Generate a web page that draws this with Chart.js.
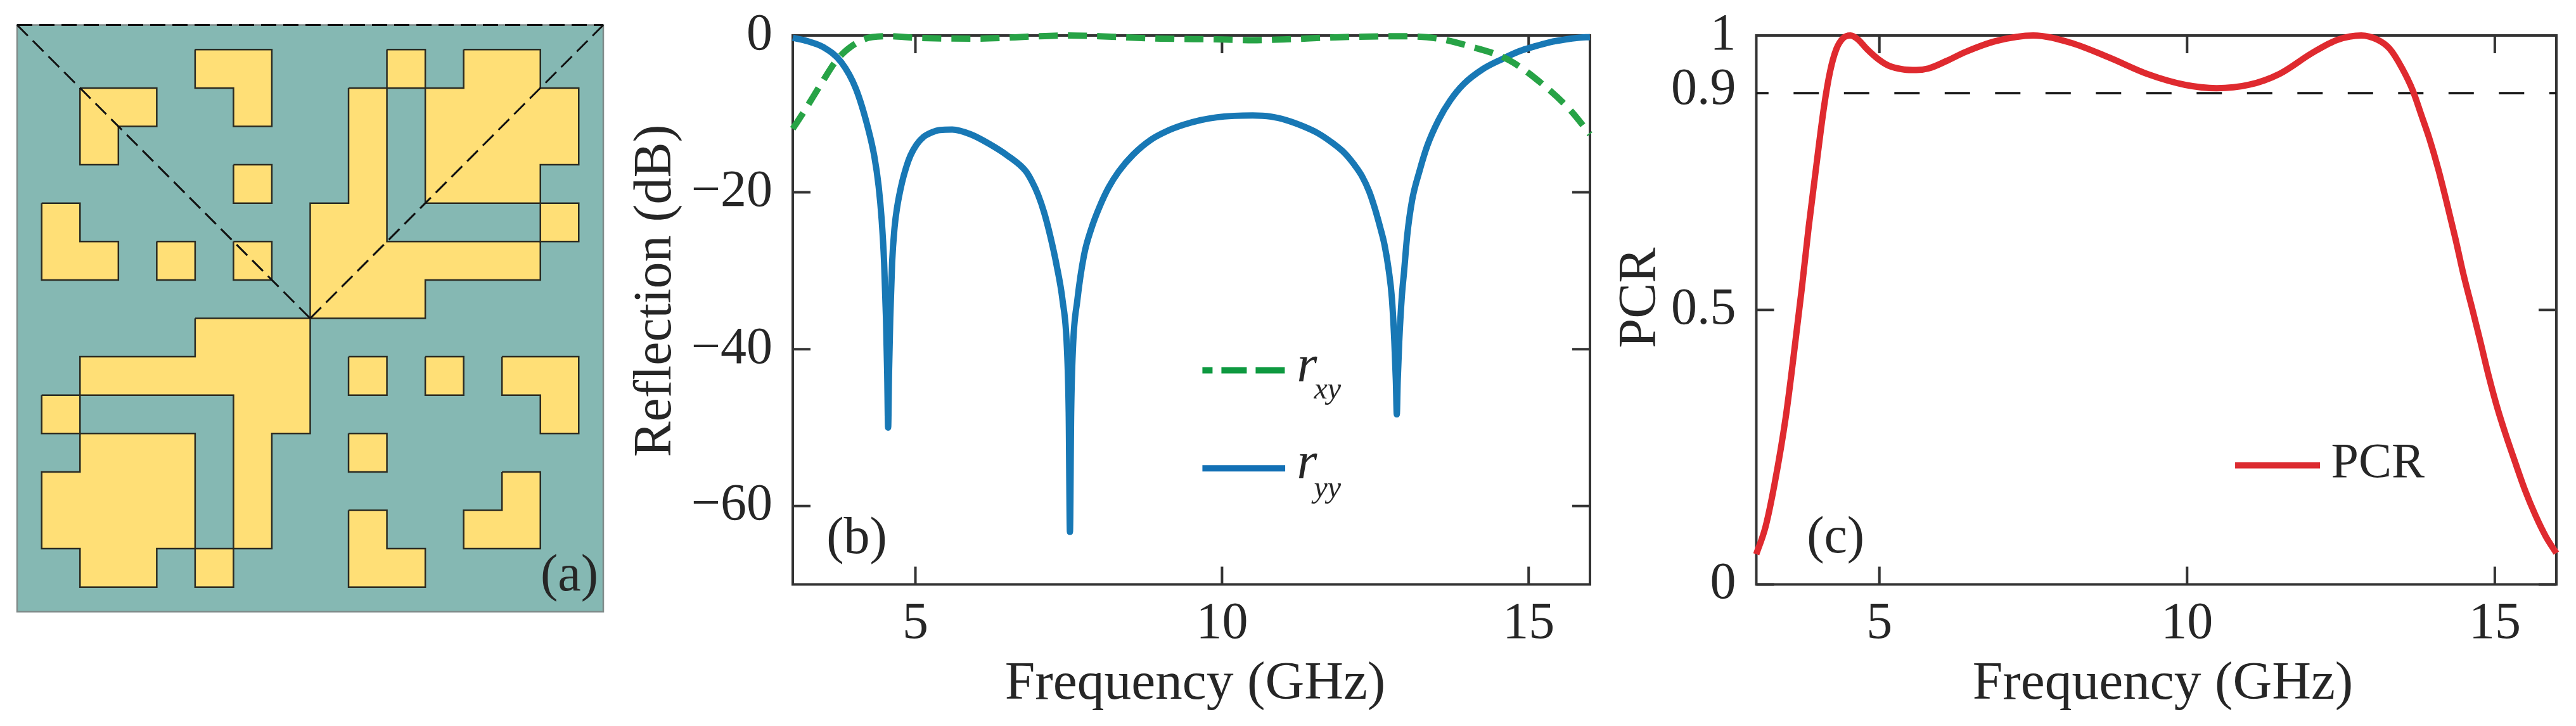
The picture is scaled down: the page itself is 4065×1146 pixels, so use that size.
<!DOCTYPE html>
<html>
<head>
<meta charset="utf-8">
<title>Metasurface unit cell, reflection and PCR</title>
<script src="https://cdn.jsdelivr.net/npm/chart.js@4"></script>
<style>
  html, body { margin: 0; padding: 0; background: #fff; }
  #page { position: relative; width: 4065px; height: 1146px; overflow: hidden; }
  canvas { position: absolute; top: 0; }
  #cell { left: 0; }
  #refl { left: 960px; }
  #pcr { left: 2530px; }
</style>
</head>
<body>
<div id="page">
  <canvas id="cell" width="985" height="1146"></canvas>
  <canvas id="refl" width="1570" height="1146"></canvas>
  <canvas id="pcr" width="1535" height="1146"></canvas>
</div>
<script>
// Panel (a): yellow blocks, corners in grid units
const cellBlocks = [
  [[1,1],[3,1],[3,2],[2,2],[2,3],[1,3]],
  [[4,0],[6,0],[6,2],[5,2],[5,1],[4,1]],
  [[5,3],[6,3],[6,4],[5,4]],
  [[0,4],[1,4],[1,5],[2,5],[2,6],[0,6]],
  [[3,5],[4,5],[4,6],[3,6]],
  [[5,5],[6,5],[6,6],[5,6]],
  [[9,0],[10,0],[10,1],[9,1]],
  [[11,0],[13,0],[13,1],[14,1],[14,3],[13,3],[13,4],[10,4],[10,1],[11,1]],
  [[13,4],[14,4],[14,5],[13,5]],
  [[8,1],[9,1],[9,5],[13,5],[13,6],[10,6],[10,7],[7,7],[7,4],[8,4]],
  [[4,7],[7,7],[7,10],[6,10],[6,13],[5,13],[5,9],[1,9],[1,8],[4,8]],
  [[0,9],[1,9],[1,10],[0,10]],
  [[1,10],[4,10],[4,13],[3,13],[3,14],[1,14],[1,13],[0,13],[0,11],[1,11]],
  [[4,13],[5,13],[5,14],[4,14]],
  [[8,8],[9,8],[9,9],[8,9]],
  [[10,8],[11,8],[11,9],[10,9]],
  [[12,8],[14,8],[14,10],[13,10],[13,9],[12,9]],
  [[8,10],[9,10],[9,11],[8,11]],
  [[12,11],[13,11],[13,13],[11,13],[11,12],[12,12]],
  [[8,12],[9,12],[9,13],[10,13],[10,14],[8,14]]
];
const cellRange = [-0.64, 14.64];
const cellCenter = [7, 7];

// Panel (b): reflection in dB
const ryyFreq = [3, 3.25, 3.5, 3.79, 4.03, 4.23, 4.33, 4.4, 4.45, 4.49, 4.52, 4.54, 4.555, 4.57, 4.59, 4.62, 4.66, 4.7, 4.78, 4.85, 4.92, 5.02, 5.13, 5.27, 5.4, 5.6, 5.9, 6.2, 6.5, 6.8, 6.9, 7, 7.1, 7.2, 7.3, 7.4, 7.47, 7.5, 7.52, 7.54, 7.57, 7.64, 7.75, 7.87, 8, 8.15, 8.32, 8.55, 8.84, 9.1, 9.37, 9.65, 9.9, 10.2, 10.5, 10.8, 11.05, 11.3, 11.55, 11.8, 12, 12.15, 12.28, 12.4, 12.49, 12.58, 12.65, 12.72, 12.77, 12.81, 12.835, 12.85, 12.865, 12.89, 12.93, 12.97, 13.02, 13.1, 13.22, 13.35, 13.53, 13.72, 13.94, 14.25, 14.57, 14.85, 15.09, 15.35, 15.6, 15.8, 16];
const ryyDb = [-0.3, -0.75, -1.5, -3.4, -6.8, -11.9, -15.4, -19.2, -23.5, -29, -36, -43, -50, -43, -36, -29, -24.5, -22, -18.8, -16.8, -15.3, -13.9, -12.95, -12.35, -12.05, -12, -12.6, -13.8, -15.3, -17.3, -18.6, -20.3, -22.6, -25.6, -29.2, -33.8, -39.7, -48, -63.3, -48, -39.7, -33.8, -28, -24.6, -21.9, -19.4, -17.3, -15.2, -13.3, -12.2, -11.4, -10.8, -10.45, -10.25, -10.2, -10.35, -10.8, -11.5, -12.4, -13.7, -15, -16.4, -17.9, -19.9, -22, -24.5, -26.7, -30, -33.5, -39, -44, -48.3, -44, -39, -33.5, -30, -25.5, -21, -17.3, -14, -10.8, -8.3, -6.2, -4.3, -3, -2, -1.4, -0.85, -0.5, -0.3, -0.2];
const rxyFreq = [3, 3.2, 3.46, 3.72, 4.03, 4.3, 4.6, 5, 6, 7, 7.5, 8, 9, 10, 10.5, 11, 12, 13, 13.53, 14.05, 14.67, 15.3, 15.7, 16];
const rxyDb = [-11.9, -9.5, -6.2, -3.1, -1, -0.2, -0.1, -0.3, -0.4, -0.1, 0, -0.1, -0.4, -0.5, -0.6, -0.5, -0.2, -0.1, -0.4, -1.4, -3.1, -6.7, -9.7, -12.6];

// Panel (c): polarization conversion ratio
const pcrFreq = [3, 3.15, 3.3, 3.48, 3.6, 3.74, 3.85, 3.95, 4.1, 4.2, 4.3, 4.41, 4.53, 4.65, 4.8, 4.98, 5.15, 5.4, 5.6, 5.8, 6.1, 6.4, 6.9, 7.5, 8.1, 8.73, 9.35, 9.97, 10.48, 11, 11.5, 12.03, 12.44, 12.83, 13.08, 13.29, 13.49, 13.67, 13.8, 13.94, 14.08, 14.22, 14.36, 14.49, 14.64, 14.76, 14.9, 15.04, 15.18, 15.32, 15.49, 15.66, 15.83, 16];
const pcrVal = [0.055, 0.105, 0.185, 0.306, 0.41, 0.54, 0.65, 0.74, 0.87, 0.935, 0.975, 0.995, 1, 0.993, 0.975, 0.957, 0.945, 0.938, 0.937, 0.94, 0.954, 0.97, 0.99, 1, 0.987, 0.96, 0.93, 0.91, 0.904, 0.91, 0.93, 0.968, 0.992, 1, 0.993, 0.976, 0.941, 0.899, 0.857, 0.811, 0.757, 0.695, 0.63, 0.565, 0.499, 0.445, 0.38, 0.322, 0.272, 0.226, 0.172, 0.126, 0.087, 0.057];
const pcrThreshold = 0.895;

// Ticks
const freqTicks = [5, 10, 15];
const reflTicks = [0, -20, -40, -60];
const pcrTicks = [0, 0.5, 0.9, 1];
const pcrMarkedTicks = [0, 0.5, 1];

const SERIF = "'Liberation Serif', 'Times New Roman', serif";
const INK = "#262626";
const BLUE = "#1878B5";
const GREEN = "#27A346";
const RED = "#DF2A2F";

Chart.defaults.animation = false;
Chart.defaults.font.family = SERIF;
Chart.defaults.color = INK;

const toPoints = (xs, ys) => xs.map((x, i) => ({ x, y: ys[i] }));

function setText(ctx, size, style) {
  ctx.font = `${style || ""} ${size}px ${SERIF}`;
  ctx.fillStyle = INK;
  ctx.textBaseline = "alphabetic";
  ctx.textAlign = "left";
}

// Inward ticks on all four sides plus the box, MATLAB style
const boxFrame = {
  id: "boxFrame",
  beforeDatasetsDraw(chart, args, opts) {
    const { ctx, chartArea: a, scales } = chart;
    ctx.save();
    ctx.strokeStyle = "#333";
    ctx.lineWidth = 4;
    ctx.beginPath();
    freqTicks.forEach(v => {
      const x = scales.x.getPixelForValue(v);
      ctx.moveTo(x, a.top); ctx.lineTo(x, a.top + 28);
      ctx.moveTo(x, a.bottom); ctx.lineTo(x, a.bottom - 28);
    });
    opts.marks.forEach(v => {
      const y = scales.y.getPixelForValue(v);
      ctx.moveTo(a.left, y); ctx.lineTo(a.left + 28, y);
      ctx.moveTo(a.right, y); ctx.lineTo(a.right - 28, y);
    });
    ctx.stroke();
    ctx.strokeRect(a.left, a.top, a.right - a.left, a.bottom - a.top);
    ctx.restore();
  },
  // the titles sit off-centre in the original, so they are placed by hand
  afterDraw(chart, args, opts) {
    const { ctx } = chart;
    ctx.save();
    setText(ctx, 85.5);
    ctx.textAlign = "center";
    ctx.fillText("Frequency (GHz)", opts.xTitleX, 1103);
    ctx.translate(opts.yTitleX, opts.yTitleY);
    ctx.rotate(-Math.PI / 2);
    ctx.font = `84px ${SERIF}`;
    ctx.fillText(opts.yTitle, 0, 0);
    ctx.restore();
  }
};

function curveChart(id, leftWidth, rightPad, yMin, yMax, yTicks, titles, datasets, marks, extra) {
  return new Chart(document.getElementById(id), {
    type: "scatter",
    data: { datasets },
    options: {
      responsive: false,
      events: [],
      layout: { autoPadding: false, padding: { top: 56, right: rightPad, left: 0, bottom: 0 } },
      plugins: { legend: { display: false }, tooltip: { enabled: false }, boxFrame: { marks, ...titles } },
      scales: {
        x: {
          min: 3, max: 16,
          grid: { display: false }, border: { display: false },
          afterBuildTicks: s => { s.ticks = freqTicks.map(value => ({ value })); },
          afterFit: s => { s.height = 223.5; s.paddingLeft = 0; s.paddingRight = 0; },
          ticks: { font: { size: 82 }, padding: 6, autoSkip: false, maxRotation: 0 }
        },
        y: {
          min: yMin, max: yMax,
          grid: { display: false }, border: { display: false },
          afterBuildTicks: s => { s.ticks = yTicks.map(value => ({ value })); },
          afterFit: s => { s.width = leftWidth; s.paddingTop = 0; s.paddingBottom = 0; },
          ticks: {
            font: { size: 82 }, padding: 24, autoSkip: false,
            callback: v => String(v).replace("-", "\u2212")
          }
        }
      }
    },
    plugins: [boxFrame, extra]
  });
}

const curve = (label, xs, ys, color, dash) => ({
  label,
  data: toPoints(xs, ys),
  showLine: true,
  borderColor: color,
  borderWidth: 10,
  borderDash: dash || [],
  borderJoinStyle: "round",
  cubicInterpolationMode: "monotone",
  pointRadius: 0,
  clip: false
});

// Panel (a)
new Chart(document.getElementById("cell"), {
  type: "scatter",
  data: {
    datasets: [
      ...[
        [[cellRange[0], cellRange[0]], [cellRange[1], cellRange[0]]],
        [[cellRange[0], cellRange[0]], cellCenter],
        [[cellRange[1], cellRange[0]], cellCenter]
      ].map(seg => ({
        data: seg.map(([x, y]) => ({ x, y })),
        showLine: true,
        borderColor: "#111",
        borderWidth: 3,
        borderDash: [24, 11],
        pointRadius: 0,
        clip: false
      })),
      ...cellBlocks.map(b => ({
        data: [...b, b[0]].map(([x, y]) => ({ x, y })),
        showLine: true,
        fill: "shape",
        backgroundColor: "#FFDF76",
        borderColor: "#2B2B22",
        borderWidth: 2.5,
        pointRadius: 0
      }))
    ]
  },
  options: {
    responsive: false,
    events: [],
    layout: { padding: { left: 27, right: 33, top: 39.5, bottom: 180.5 } },
    plugins: { legend: { display: false }, tooltip: { enabled: false } },
    scales: {
      x: { display: false, min: cellRange[0], max: cellRange[1] },
      y: { display: false, min: cellRange[0], max: cellRange[1], reverse: true }
    }
  },
  plugins: [{
    id: "cellBackground",
    beforeDatasetsDraw(chart) {
      const { ctx, chartArea: a } = chart;
      ctx.save();
      ctx.fillStyle = "#85B8B3";
      ctx.fillRect(a.left, a.top, a.right - a.left, a.bottom - a.top);
      ctx.strokeStyle = "#808B8A";
      ctx.lineWidth = 2.5;
      ctx.strokeRect(a.left, a.top, a.right - a.left, a.bottom - a.top);
      ctx.restore();
    },
    afterDatasetsDraw(chart) {
      const { ctx } = chart;
      ctx.save();
      setText(ctx, 82);
      ctx.fillText("(a)", 853, 932);
      ctx.restore();
    }
  }]
});

// Panel (b)
curveChart("refl", 291, 21, -70, 0, reflTicks,
  { yTitle: "Reflection (dB)", yTitleX: 98, yTitleY: 459, xTitleX: 926 }, [
  curve("r_xy", rxyFreq, rxyDb, GREEN, [30, 16]),
  curve("r_yy", ryyFreq, ryyDb, BLUE)
], reflTicks, {
  id: "reflNotes",
  afterDatasetsDraw(chart) {
    const { ctx, scales: { x, y } } = chart;
    ctx.save();
    setText(ctx, 82);
    ctx.fillText("(b)", x.getPixelForValue(3.55), y.getPixelForValue(-66));
    const x0 = x.getPixelForValue(9.68), x1 = x.getPixelForValue(11.03);
    const sample = (val, color, dash) => {
      ctx.strokeStyle = color;
      ctx.lineWidth = 10;
      ctx.setLineDash(dash);
      ctx.beginPath();
      ctx.moveTo(x0, y.getPixelForValue(val));
      ctx.lineTo(x1, y.getPixelForValue(val));
      ctx.stroke();
      ctx.setLineDash([]);
    };
    sample(-42.7, "#0E9940", [16, 14, 40, 14, 46]);
    sample(-55.2, "#1270B5", []);
    const rx = x.getPixelForValue(11.22), sx = x.getPixelForValue(11.5);
    setText(ctx, 82, "italic");
    ctx.fillText("r", rx, y.getPixelForValue(-44.1));
    ctx.fillText("r", rx, y.getPixelForValue(-56.5));
    setText(ctx, 48, "italic");
    ctx.fillText("xy", sx, y.getPixelForValue(-46.3));
    ctx.fillText("yy", sx, y.getPixelForValue(-58.9));
    ctx.restore();
  }
});

// Panel (c)
curveChart("pcr", 241.5, 31, 0, 1, pcrTicks,
  { yTitle: "PCR", yTitleX: 82, yTitleY: 470, xTitleX: 883 }, [
  curve("PCR", pcrFreq, pcrVal, RED),
  {
    label: "0.9 level",
    data: [{ x: 3, y: pcrThreshold }, { x: 16, y: pcrThreshold }],
    showLine: true,
    borderColor: "#111",
    borderWidth: 3.5,
    borderDash: [40, 39.5],
    borderDashOffset: 20.7,
    pointRadius: 0
  }
], pcrMarkedTicks, {
  id: "pcrNotes",
  afterDatasetsDraw(chart) {
    const { ctx, scales: { x, y } } = chart;
    ctx.save();
    setText(ctx, 82);
    ctx.fillText("(c)", x.getPixelForValue(3.82), y.getPixelForValue(0.058));
    ctx.strokeStyle = "#DC2B30";
    ctx.lineWidth = 10;
    ctx.beginPath();
    ctx.moveTo(x.getPixelForValue(10.78), y.getPixelForValue(0.217));
    ctx.lineTo(x.getPixelForValue(12.16), y.getPixelForValue(0.217));
    ctx.stroke();
    setText(ctx, 78);
    ctx.fillText("PCR", x.getPixelForValue(12.34), y.getPixelForValue(0.196));
    ctx.restore();
  }
});
</script>
</body>
</html>
